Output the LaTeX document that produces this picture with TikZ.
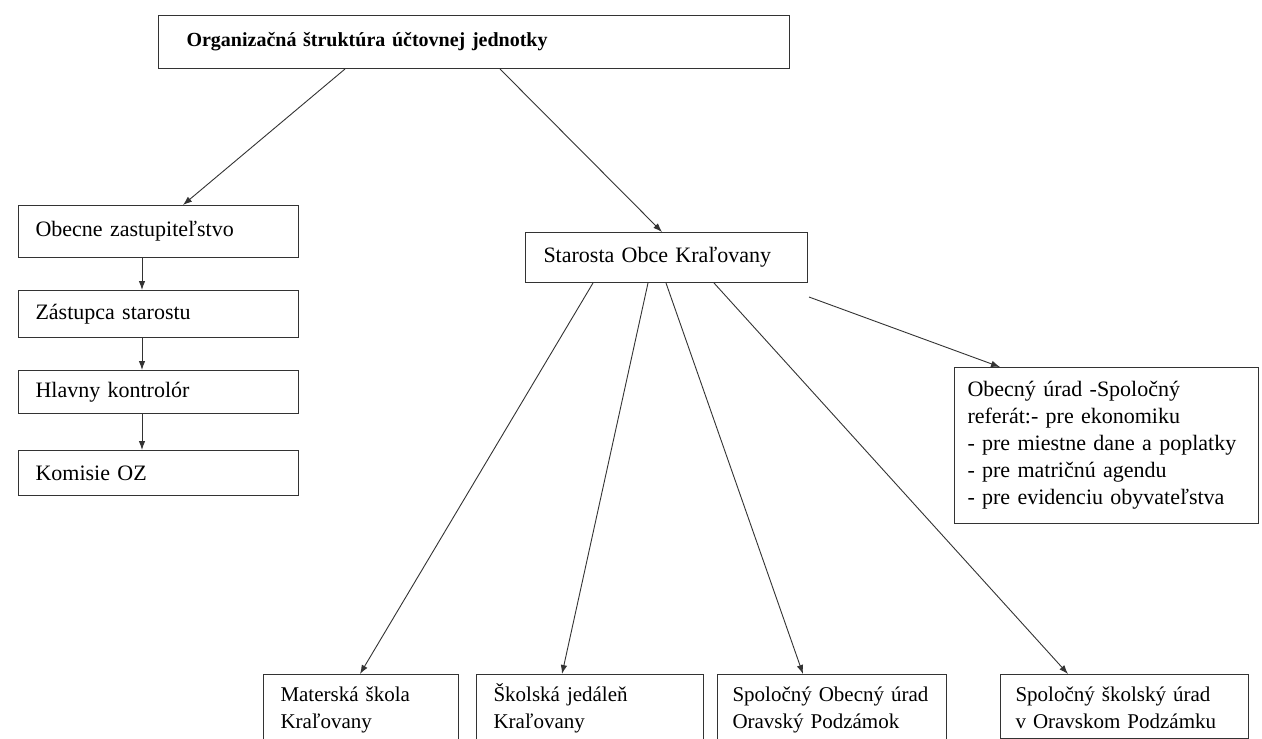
\documentclass[tikz,border=0pt]{standalone}
\usepackage{fontspec}
\setmainfont{Liberation Serif}
\usetikzlibrary{arrows.meta}
\tikzset{
  >={Latex[length=9pt,width=6.5pt]},
  box/.style={draw=black!80, line width=1pt, anchor=north west, align=left,
    inner xsep=17pt, inner ysep=0pt, font=\fontsize{22}{27}\selectfont},
  lower/.style={box, inner ysep=10pt, text height=17pt, font=\fontsize{21}{27}\selectfont},
  line/.style={draw=black!80, line width=0.9pt, ->}
}
\begin{document}
\begin{tikzpicture}[x=1pt,y=-1pt]
                \useasboundingbox (0,0) rectangle (1262,739);
                \clip (0,0) rectangle (1262,739);
                \fill[white] (0,0) rectangle (1262,739);

                \node[box, inner xsep=28pt, minimum width=631pt, minimum height=53pt, text width=575pt, font=\fontsize{20}{27}\selectfont] (top) at (158,15) {\textbf{Organizačná štruktúra účtovnej jednotky}};

                \node[box, minimum width=280pt, minimum height=52pt, text width=246pt] (zastupitelstvo) at (18,205) {Obecne zastupiteľstvo};
                \node[box, minimum width=280pt, minimum height=47pt, text width=246pt] (zastupca) at (18,290) {Zástupca starostu};
                \node[box, minimum width=280pt, minimum height=43pt, text width=246pt] (kontrolor) at (18,370) {Hlavny kontrolór};
                \node[box, minimum width=280pt, minimum height=45pt, text width=246pt] (komisie) at (18,450) {Komisie OZ};

                \node[box, minimum width=282pt, minimum height=50pt, text width=246pt] (starosta) at (525,232) {Starosta Obce Kraľovany};

                \node[box, inner xsep=13pt, minimum width=304pt, minimum height=156pt, text width=278pt] (urad) at (954,367) {Obecný úrad -Spoločný\\referát:- pre ekonomiku\\- pre miestne dane a poplatky\\- pre matričnú agendu\\- pre evidenciu obyvateľstva};

                \node[lower, minimum width=195pt, text width=161pt] (skolka) at (263,674) {Materská škola\\Kraľovany};
                \node[lower, minimum width=227pt, text width=193pt] (jedalen) at (476,674) {Školská jedáleň\\Kraľovany};
                \node[lower, inner xsep=15pt, minimum width=229pt, text width=199pt] (obecnyurad) at (717,674) {Spoločný Obecný úrad\\Oravský Podzámok};
                \node[lower, inner xsep=15pt, minimum width=248pt, text width=218pt] (skolskyurad) at (1000,674) {Spoločný školský úrad\\v Oravskom Podzámku};

                \draw[line] ([xshift=187pt]top.south west) -- ([xshift=165pt]zastupitelstvo.north west);
                \draw[line] ([xshift=342pt]top.south west) -- ([xshift=137pt]starosta.north west);

                \draw[line] ([xshift=124pt]zastupitelstvo.south west) -- ([xshift=124pt]zastupca.north west);
                \draw[line] ([xshift=124pt]zastupca.south west) -- ([xshift=124pt]kontrolor.north west);
                \draw[line] ([xshift=124pt]kontrolor.south west) -- ([xshift=124pt]komisie.north west);

                \draw[line] ([xshift=68pt]starosta.south west) -- ([xshift=97pt]skolka.north west);
                \draw[line] ([xshift=123pt]starosta.south west) -- ([xshift=86pt]jedalen.north west);
                \draw[line] ([xshift=141pt]starosta.south west) -- ([xshift=86pt]obecnyurad.north west);
                \draw[line] ([xshift=189pt]starosta.south west) -- ([xshift=68pt]skolskyurad.north west);
                \draw[line] ([xshift=1pt,yshift=-14pt]starosta.south east) -- ([xshift=46pt]urad.north west);
            \end{tikzpicture}
\end{document}
